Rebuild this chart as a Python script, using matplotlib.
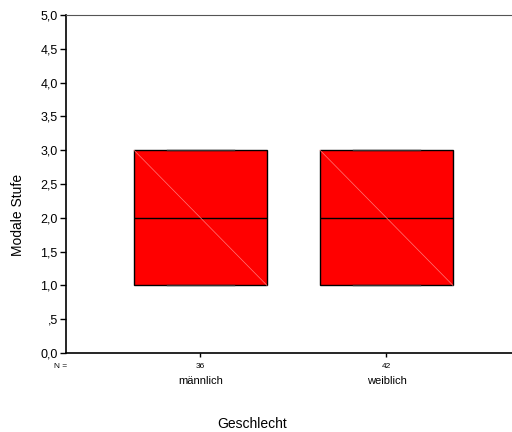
import matplotlib
matplotlib.use("Agg")
import matplotlib.pyplot as plt

plt.rcParams['font.family'] = ['Liberation Sans', 'DejaVu Sans']

# Data
groups = ['männlich', 'weiblich']
n_counts = [36, 42]
q1 = [1.0, 1.0]
median = [2.0, 2.0]
q3 = [3.0, 3.0]
whisk_lo = [1.0, 1.0]
whisk_hi = [3.0, 3.0]

yticks = [0.0, 0.5, 1.0, 1.5, 2.0, 2.5, 3.0, 3.5, 4.0, 4.5, 5.0]
ytick_labels = ['0,0', ',5', '1,0', '1,5', '2,0', '2,5', '3,0', '3,5', '4,0', '4,5', '5,0']

fig = plt.figure(figsize=(5.12, 4.32), dpi=100)
ax = fig.add_axes([66 / 512, 1 - 353 / 432, 446 / 512, 338 / 432])

positions = [1, 2]
box_w = 0.715
stats = []
for i in range(len(groups)):
    stats.append(dict(med=median[i], q1=q1[i], q3=q3[i],
                      whislo=whisk_lo[i], whishi=whisk_hi[i], fliers=[]))

ax.bxp(stats, positions=positions, widths=box_w, patch_artist=True,
       showfliers=False,
       boxprops=dict(facecolor='#ff0000', edgecolor='black', linewidth=1),
       medianprops=dict(color='black', linewidth=1),
       whiskerprops=dict(color='black', linewidth=1),
       capprops=dict(color='#333333', linewidth=1))

# faint diagonal inside each box
for i, p in enumerate(positions):
    ax.plot([p - box_w / 2, p + box_w / 2], [q3[i], q1[i]],
            color='#ff7a7a', linewidth=0.5, zorder=5)

ax.set_xlim(0.277, 2.675)
ax.set_ylim(0, 5)
ax.set_yticks(yticks)
ax.set_yticklabels(ytick_labels, fontsize=9)
ax.tick_params(axis='y', direction='out', length=4, width=1, pad=2)

ax.set_xticks(positions)
ax.set_xticklabels([str(n) for n in n_counts], fontsize=6)
ax.tick_params(axis='x', direction='out', length=3, width=1, pad=4)

for i, p in enumerate(positions):
    ax.text(p, -0.42, groups[i], ha='center', va='center', fontsize=8)
ax.text(-0.012, -0.04, 'N =', transform=ax.transAxes, ha='center', va='center', fontsize=6)

ax.spines['right'].set_visible(False)
ax.spines['top'].set_color('#555555')
ax.spines['left'].set_linewidth(1.2)
ax.spines['bottom'].set_linewidth(1.2)

fig.text(252 / 512, 1 - 424 / 432, 'Geschlecht', ha='center', va='center', fontsize=10)
fig.text(18 / 512, 1 - 215 / 432, 'Modale Stufe', ha='center', va='center',
         rotation=90, fontsize=10)

fig.savefig('out.png', dpi=100)
